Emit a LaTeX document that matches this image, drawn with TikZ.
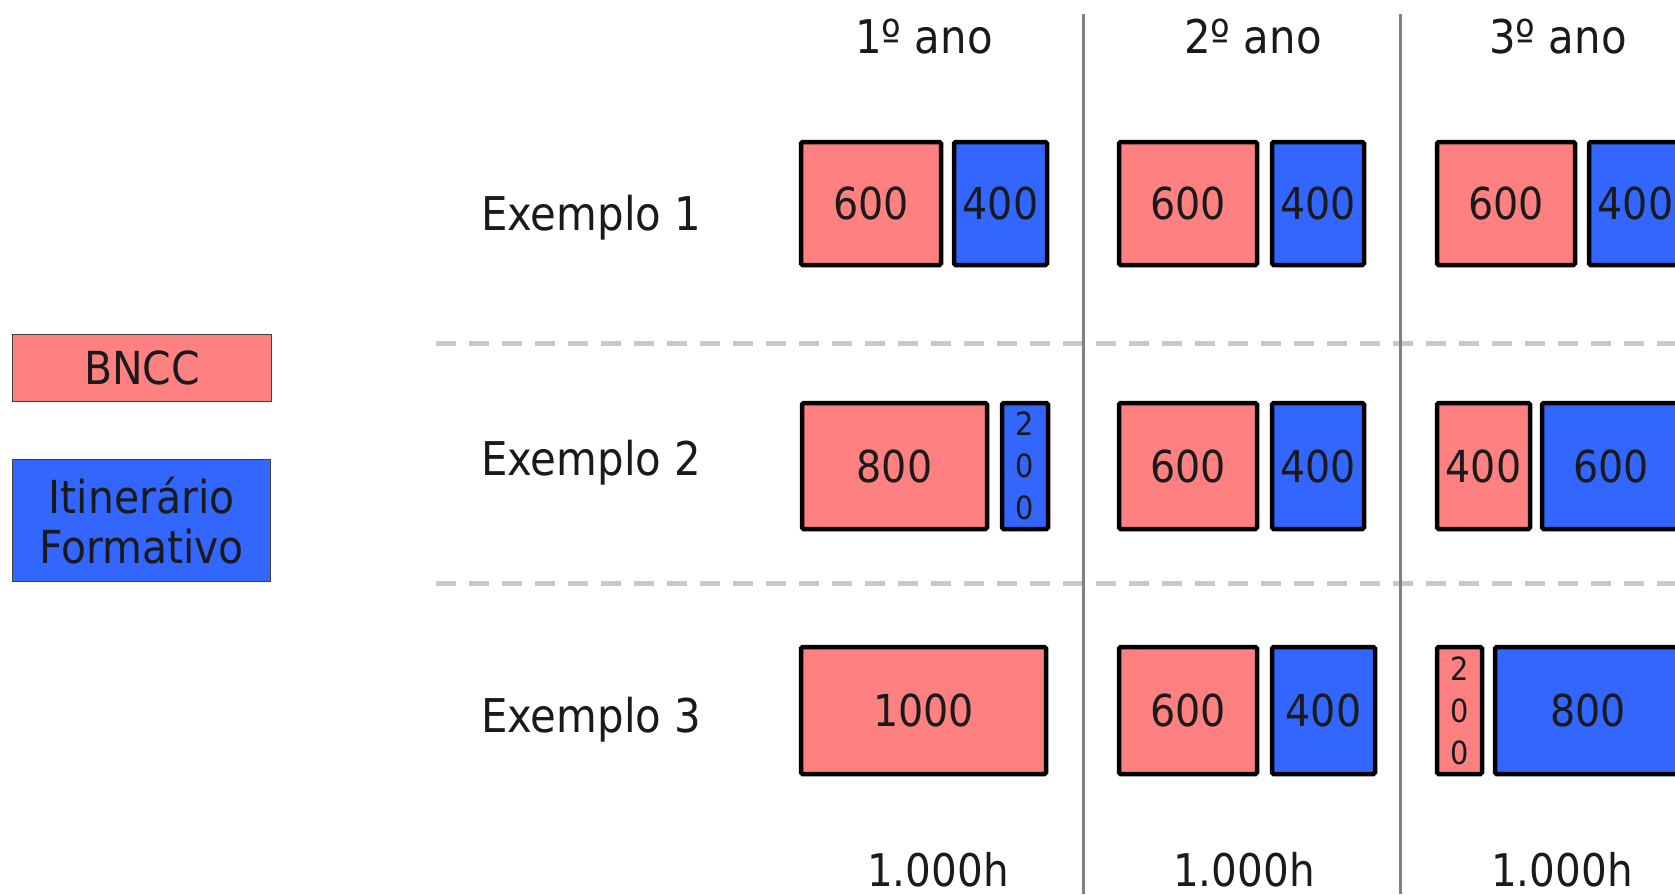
\documentclass[tikz,border=0pt]{standalone}
\usepackage{fontspec}
\setmainfont{DejaVu Sans Condensed}
\definecolor{bncc}{HTML}{FF8080}
\definecolor{itin}{HTML}{3366FF}
\definecolor{sepgray}{HTML}{C8C8C8}
\definecolor{colgray}{HTML}{808080}
\definecolor{txt}{HTML}{1A1A1A}
\tikzset{
  lbl/.style={font=\fontsize{46.5}{53}\selectfont, text=txt, inner sep=0pt},
  tot/.style={font=\fontsize{45}{53}\selectfont, text=txt, inner sep=0pt},
  cbox/.style={draw=black, line width=4.5pt, rounded corners=1.5pt, inner sep=0pt, font=\fontsize{44}{53}\selectfont, text=txt},
  pinkbox/.style={cbox, fill=bncc},
  bluebox/.style={cbox, fill=itin},
  vtext/.style={font=\fontsize{32}{42}\selectfont, align=center},
  legbox/.style={draw=black!75, line width=1.5pt, inner sep=0pt, font=\fontsize{45.5}{50}\selectfont, text=txt, align=center},
  sepline/.style={draw=sepgray, line width=5pt, dash pattern=on 20pt off 13pt},
  colline/.style={draw=colgray, line width=3pt}
}
\begin{document}
\begin{tikzpicture}[x=1pt,y=-1pt]
\useasboundingbox (0,0) rectangle (1675,894);
% separators
\coordinate (d1a) at (436,343); \coordinate (d1b) at (1680,343);
\coordinate (d2a) at (436,583); \coordinate (d2b) at (1680,583);
\draw[sepline] (d1a) -- (d1b);
\draw[sepline] (d2a) -- (d2b);
\coordinate (v1a) at (1083,14); \coordinate (v1b) at (1083,894);
\coordinate (v2a) at (1400,14); \coordinate (v2b) at (1400,894);
\draw[colline] (v1a) -- (v1b);
\draw[colline] (v2a) -- (v2b);
% legend
\node[legbox, fill=bncc, minimum width=259pt, minimum height=67pt] (legA) at (142,368) {BNCC};
\node[legbox, fill=itin, minimum width=258pt, minimum height=122pt] (legB) at (141.5,520.5) {Itinerário\\Formativo};
% headers
\node[lbl, anchor=base] (h1) at (924,53) {1º ano};
\node[lbl, anchor=base] (h2) at (1253,53) {2º ano};
\node[lbl, anchor=base] (h3) at (1558,53) {3º ano};
% row labels
\node[lbl, anchor=base west] (e1) at (481,230) {Exemplo 1};
\node[lbl, anchor=base west] (e2) at (481,475) {Exemplo 2};
\node[lbl, anchor=base west] (e3) at (481,732) {Exemplo 3};
% row 1
\node[pinkbox, minimum width=140pt, minimum height=123pt] (r1c1p) at (871,203.5) {600};
\node[bluebox, minimum width=93pt, minimum height=123pt] (r1c1b) at (1000.5,203.5) {400};
\node[pinkbox, minimum width=138pt, minimum height=123pt] (r1c2p) at (1188,203.5) {600};
\node[bluebox, minimum width=92pt, minimum height=123pt] (r1c2b) at (1318,203.5) {400};
\node[pinkbox, minimum width=138pt, minimum height=123pt] (r1c3p) at (1506,203.5) {600};
\node[bluebox, minimum width=93pt, minimum height=123pt] (r1c3b) at (1635.5,203.5) {400};
% row 2
\node[pinkbox, minimum width=185pt, minimum height=126pt] (r2c1p) at (894.5,466) {800};
\node[bluebox, vtext, minimum width=46pt, minimum height=126pt] (r2c1b) at (1025,466) {2\\0\\0};
\node[pinkbox, minimum width=138pt, minimum height=126pt] (r2c2p) at (1188,466) {600};
\node[bluebox, minimum width=92pt, minimum height=126pt] (r2c2b) at (1318,466) {400};
\node[pinkbox, minimum width=93pt, minimum height=126pt] (r2c3p) at (1483.5,466) {400};
\node[bluebox, minimum width=138pt, minimum height=126pt] (r2c3b) at (1611,466) {600};
% row 3
\node[pinkbox, minimum width=245pt, minimum height=127pt] (r3c1p) at (923.5,710.5) {1000};
\node[pinkbox, minimum width=138pt, minimum height=127pt] (r3c2p) at (1188,710.5) {600};
\node[bluebox, minimum width=103pt, minimum height=127pt] (r3c2b) at (1323.5,710.5) {400};
\node[pinkbox, vtext, minimum width=45pt, minimum height=127pt] (r3c3p) at (1459.5,710.5) {2\\0\\0};
\node[bluebox, minimum width=186pt, minimum height=127pt] (r3c3b) at (1588,710.5) {800};
% totals
\node[tot, anchor=base] (t1) at (938,886) {1.000h};
\node[tot, anchor=base] (t2) at (1244,886) {1.000h};
\node[tot, anchor=base] (t3) at (1562,886) {1.000h};
\end{tikzpicture}
\end{document}
